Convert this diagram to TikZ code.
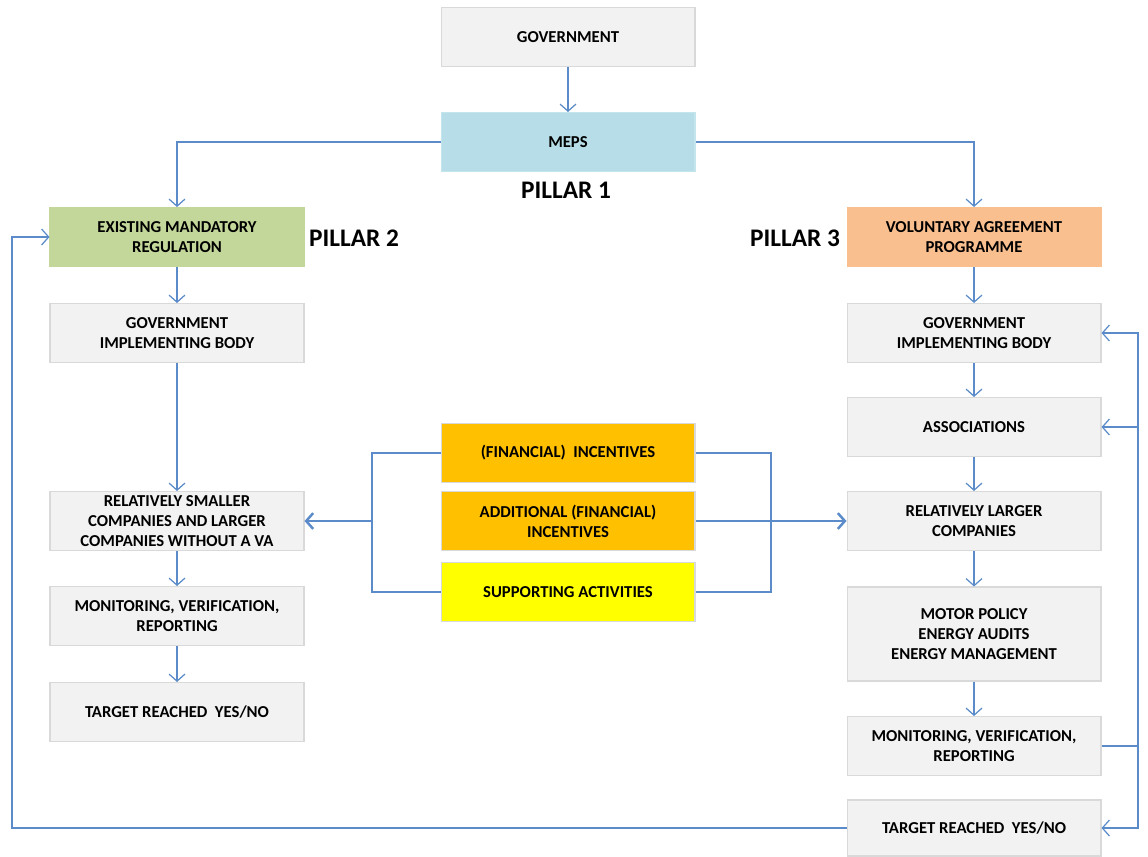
\documentclass[tikz,border=0pt]{standalone}
\usepackage{fontspec}
\setmainfont{Carlito}
\usetikzlibrary{arrows.meta,positioning}

\definecolor{boxgray}{HTML}{F2F2F2}
\definecolor{boxline}{HTML}{D9D9D9}
\definecolor{linkblue}{HTML}{5B8BC9}
\definecolor{mepsblue}{HTML}{B7DEE8}
\definecolor{mandgreen}{HTML}{C4D79B}
\definecolor{volorange}{HTML}{FABF8F}
\definecolor{incgold}{HTML}{FFC000}
\definecolor{supyellow}{HTML}{FFFF00}

\begin{document}
\begin{tikzpicture}[
    x = 0.02cm, y = -0.02cm, % pixel grid of the reference
    > = {Straight Barb[length=4pt,width=9pt]}, % open arrow head
    font = \fontsize{9.5}{11.4}\selectfont\bfseries,
    semithick % line style
    ]

    \tikzset{
    block/.style = {
        draw = boxline,
        fill = boxgray,
        align = center,
        minimum width = 5.08cm,
        minimum height = 1.18cm,
        inner sep = 2pt
    },
    link/.style = {draw = linkblue, line width = 0.7pt},
    biglink/.style = {draw = linkblue, line width = 1.4pt},
    pillar/.style = {font = \fontsize{14.4}{16}\selectfont\bfseries}
    }

    \useasboundingbox (0,0) rectangle (1148,856);

    % top
    \node[block] (gov) at (568,37) {GOVERNMENT};
    \node[block, fill = mepsblue, draw = mepsblue!80!white] (meps) at (568,142) {MEPS};
    \node[pillar] (p1) at (566,190) {PILLAR 1};

    % pillar 2
    \node[block, fill = mandgreen, draw = mandgreen] (mand) at (177,237) {EXISTING MANDATORY\\REGULATION};
    \node[pillar] (p2) at (354,238) {PILLAR 2};
    \node[block] (lgib) at (177,333) {GOVERNMENT\\IMPLEMENTING BODY};
    \node[block] (small) at (177,521) {RELATIVELY SMALLER\\COMPANIES AND LARGER\\COMPANIES WITHOUT A VA};
    \node[block] (lmon) at (177,616) {MONITORING, VERIFICATION,\\REPORTING};
    \node[block] (ltar) at (177,712) {TARGET REACHED\ \ YES/NO};

    % pillar 3
    \node[block, fill = volorange, draw = volorange] (vol) at (974,237) {VOLUNTARY AGREEMENT\\PROGRAMME};
    \node[pillar] (p3) at (795,238) {PILLAR 3};
    \node[block] (rgib) at (974,333) {GOVERNMENT\\IMPLEMENTING BODY};
    \node[block] (assoc) at (974,427) {ASSOCIATIONS};
    \node[block] (large) at (974,521) {RELATIVELY LARGER\\COMPANIES};
    \node[block, minimum height = 1.88cm] (motor) at (974,634) {MOTOR POLICY\\ENERGY AUDITS\\ENERGY MANAGEMENT};
    \node[block] (rmon) at (974,746) {MONITORING, VERIFICATION,\\REPORTING};
    \node[block, minimum height = 1.12cm] (rtar) at (974,828) {TARGET REACHED\ \ YES/NO};

    % middle
    \node[block, fill = incgold, draw = boxline] (inc) at (568,453) {(FINANCIAL)\ \ INCENTIVES};
    \node[block, fill = incgold, draw = boxline] (addinc) at (568,521) {ADDITIONAL (FINANCIAL)\\INCENTIVES};
    \node[block, fill = supyellow, draw = boxline] (sup) at (568,592) {SUPPORTING ACTIVITIES};

    \coordinate (lbr) at (372,521);
    \coordinate (rbr) at (771,521);
    \coordinate (loop) at (1138,746);
    \coordinate (back) at (12,828);

    % arrows
    \path[link,->] (gov) -- (meps);
    \path[link,->] (meps.west) -| (mand.north);
    \path[link,->] (meps.east) -| (vol.north);

    \path[link,->] (mand) -- (lgib);
    \path[link,->] (lgib) -- (small);
    \path[link,->] (small) -- (lmon);
    \path[link,->] (lmon) -- (ltar);

    \path[link,->] (vol) -- (rgib);
    \path[link,->] (rgib) -- (assoc);
    \path[link,->] (assoc) -- (large);
    \path[link,->] (large) -- (motor);
    \path[link,->] (motor) -- (rmon);

    % feedback on the right
    \path[link] (rmon.east) -- (loop);
    \path[link,->] (loop) |- (rgib.east);
    \path[link,->] (loop |- assoc.east) -- (assoc.east);
    \path[link,->] (loop) |- (rtar.east);
    \path[link,->] (rtar.west) -- (back) |- (mand.west);

    % incentive brackets
    \path[link] (inc.west) -| (lbr) |- (sup.west);
    \path[biglink,->] (lbr) -- (small.east);
    \path[link] (inc.east) -| (rbr) |- (sup.east);
    \path[link] (addinc.east) -- (rbr);
    \path[biglink,->] (rbr) -- (large.west);
\end{tikzpicture}
\end{document}
